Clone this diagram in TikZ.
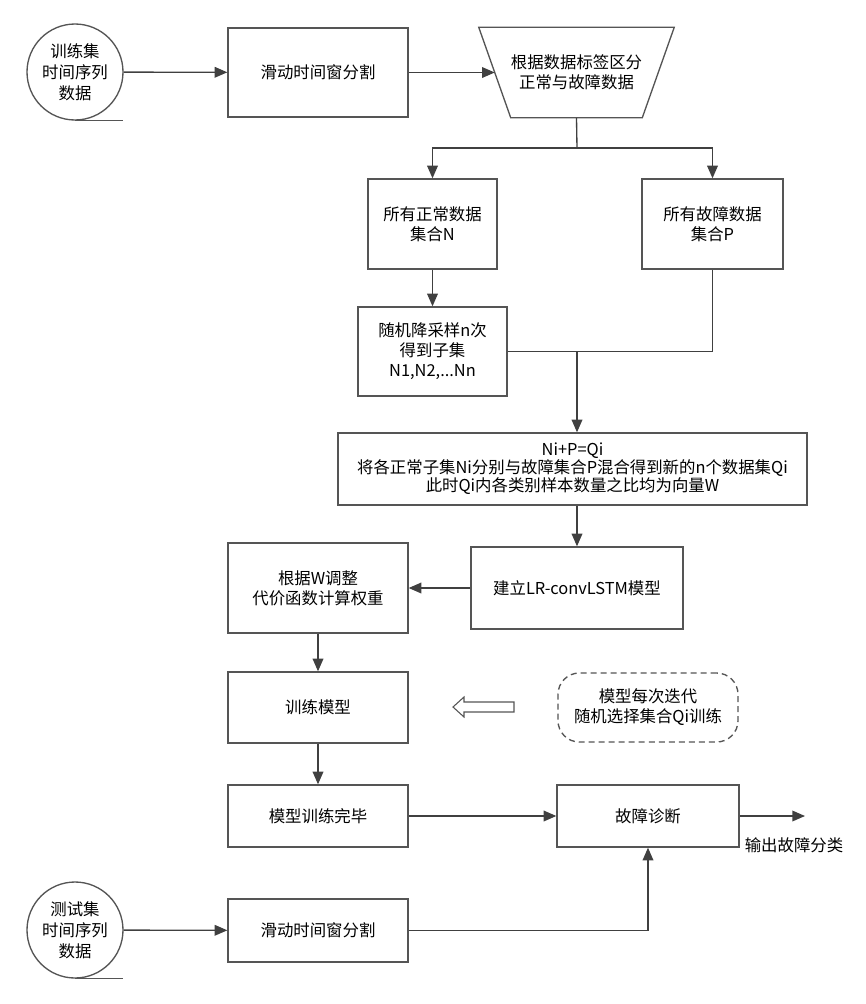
\documentclass[tikz,border=0pt]{standalone}
\usepackage{fontspec}
\setmainfont{Noto Sans CJK SC}
\usepackage{tikz}
\usetikzlibrary{arrows.meta}
\definecolor{linec}{HTML}{404040}
\definecolor{edgec}{HTML}{555555}
\tikzset{
  ar/.style={-{Triangle[length=9.5pt,width=8pt]},line width=1pt,linec},
  ln/.style={line width=1pt,linec},
  box/.style={draw=edgec,line width=1pt,fill=white,align=center,inner sep=2pt,font=\fontsize{12.3}{15}\selectfont},
  tape/.style={box,circle,minimum size=72pt,font=\fontsize{12.3}{15.8}\selectfont},
  note/.style={box,dash pattern=on 4.5pt off 3pt,rounded corners=16pt}
}

\begin{document}
\begin{tikzpicture}[x=0.75pt,y=-0.75pt]
\useasboundingbox (0,0) rectangle (865,1004);
\node[tape] (src1) at (75,72) {训练集\\时间序列\\数据};
\node[box,minimum width=135pt,minimum height=66.75pt] (win1) at (318,72.5) {滑动时间窗分割};
\node[align=center,font=\fontsize{12.3}{15}\selectfont,minimum width=146.25pt,minimum height=67.5pt] (split) at (576.5,72.5) {根据数据标签区分\\正常与故障数据};
\node[box,minimum width=96.75pt,minimum height=67.5pt] (setN) at (432.5,224) {所有正常数据\\集合N};
\node[box,minimum width=105.75pt,minimum height=67.5pt] (setP) at (712.5,224) {所有故障数据\\集合P};
\node[box,minimum width=111.75pt,minimum height=66.75pt] (samp) at (432.5,351.5) {随机降采样n次\\得到子集\\N1,N2,...Nn};
\node[box,minimum width=351.75pt,minimum height=54pt,font=\fontsize{12.3}{13.5}\selectfont] (mix) at (572.5,469) {Ni+P=Qi\\将各正常子集Ni分别与故障集合P混合得到新的n个数据集Qi\\此时Qi内各类别样本数量之比均为向量W};
\node[box,minimum width=159pt,minimum height=61.5pt] (model) at (577,588) {建立LR-convLSTM模型};
\node[box,minimum width=135pt,minimum height=67.5pt] (weight) at (318,588) {根据W调整\\代价函数计算权重};
\node[box,minimum width=135pt,minimum height=53.25pt] (train) at (318,707.5) {训练模型};
\node[box,minimum width=135pt,minimum height=46.5pt] (done) at (318,816) {模型训练完毕};
\node[box,minimum width=136.5pt,minimum height=46.5pt] (diag) at (648,816) {故障诊断};
\node[note,minimum width=135pt,minimum height=51.75pt] (hint) at (648,707.5) {模型每次迭代\\随机选择集合Qi训练};
\node[tape] (src2) at (75,930) {测试集\\时间序列\\数据};
\node[box,minimum width=135pt,minimum height=47.25pt] (win2) at (318,930.5) {滑动时间窗分割};
\node[font=\fontsize{12.3}{15}\selectfont] (outlbl) at (794,845) {输出故障分类};
\draw[ln,edgec] (split.north west) -- (split.north east) -- ([xshift=-24pt]split.south east) -- ([xshift=24pt]split.south west) -- cycle;
\coordinate (splitin) at ([xshift=12pt]split.west);
\coordinate (fork) at (577,148);
\coordinate (merge) at (577,351);
\coordinate (out) at (805,816);
\draw[ln,edgec] (src1.south) -- ++(48,0);
\draw[ln,edgec] (src2.south) -- ++(48,0);
\draw[ar] (src1) -- (win1);
\draw[ar] (win1) -- (splitin);
\draw[ln] (split.south) -- (fork);
\draw[ar] (fork) -| (setN.north);
\draw[ar] (fork) -| (setP.north);
\draw[ar] (setN) -- (samp);
\draw[ln] (setP.south) |- (samp.east);
\draw[ar] (merge) -- (merge |- mix.north);
\draw[ar] (mix.south -| model.north) -- (model.north);
\draw[ar] (model) -- (weight);
\draw[ar] (weight) -- (train);
\draw[ar] (train) -- (done);
\draw[ar] (done) -- (diag);
\draw[ar] (diag) -- (out);
\draw[ar] (src2) -- (win2);
\draw[ar] (win2.east) -| (diag.south);
\draw[line width=0.8pt,edgec] (453,707)--(464,697)--(464,702)--(514,702)--(514,712)--(464,712)--(464,717)--cycle;
\end{tikzpicture}
\end{document}
